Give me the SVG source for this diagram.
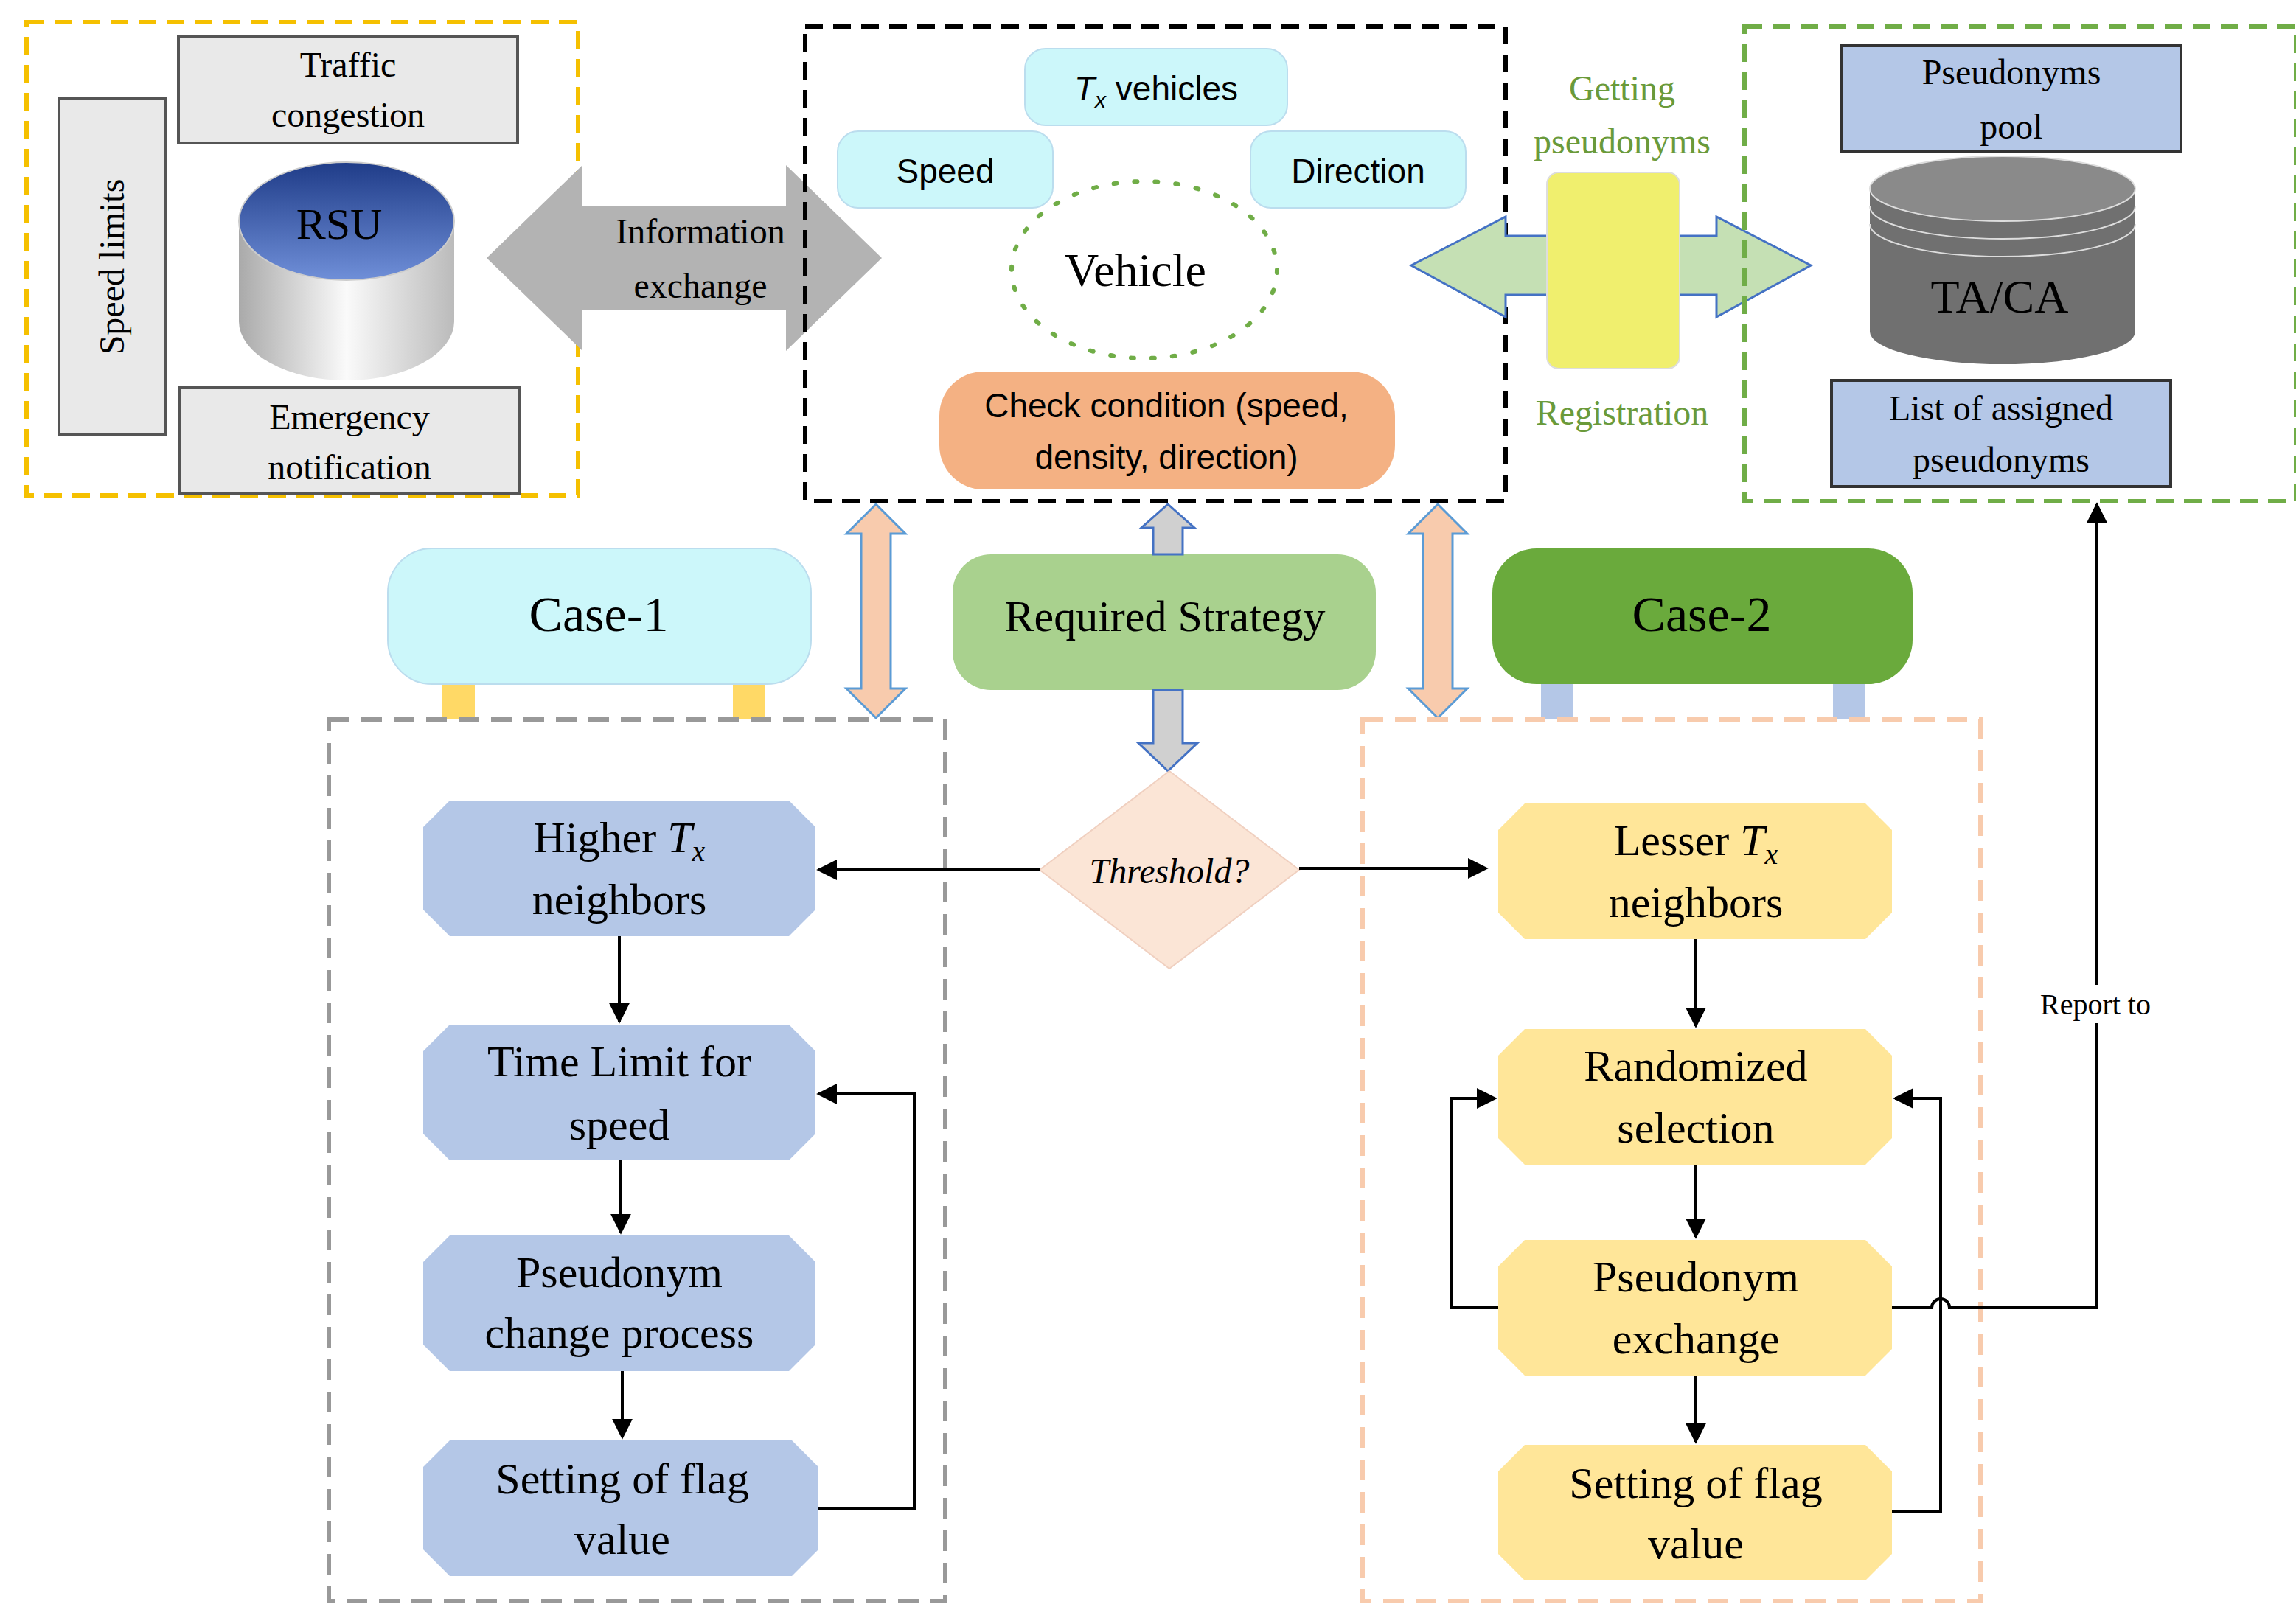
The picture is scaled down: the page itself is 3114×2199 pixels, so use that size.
<svg xmlns="http://www.w3.org/2000/svg" width="3114" height="2199" viewBox="0 0 3114 2199">
<defs>
<style>
.s{font-family:"Liberation Serif",serif;fill:#000;text-anchor:middle}
.a{font-family:"Liberation Sans",sans-serif;fill:#000;text-anchor:middle}
.box{fill:#e9e9e9;stroke:#555;stroke-width:2}
.ln{fill:none;stroke:#000;stroke-width:2}
.oct1{fill:#b4c7e7}
.oct2{fill:#ffe699}
</style>
<marker id="ah" viewBox="0 0 10 10" refX="9" refY="5" markerWidth="7" markerHeight="7" orient="auto"><path d="M0,0L10,5L0,10z" fill="#000"/></marker>
<linearGradient id="rsu" x1="0" y1="0" x2="0" y2="1"><stop offset="0" stop-color="#1f3c88"/><stop offset="1" stop-color="#6f8fd8"/></linearGradient>
<linearGradient id="cyl" x1="0" y1="0" x2="1" y2="0"><stop offset="0" stop-color="#aaa"/><stop offset="0.5" stop-color="#fafafa"/><stop offset="1" stop-color="#bbb"/></linearGradient>
</defs>
<rect width="3114" height="2199" fill="#fff"/>
<g transform="scale(2)">
<g id="rsu-area">
<rect x="18" y="15" width="374" height="321" fill="none" stroke="#f5c000" stroke-width="3" stroke-dasharray="12,7"/>
<rect class="box" x="40" y="67" width="72" height="228"/>
<text class="s" font-size="24" transform="translate(84,181) rotate(-90)">Speed limits</text>
<rect class="box" x="121" y="25" width="230" height="72"/>
<text class="s" font-size="24" x="236" y="52">Traffic</text><text class="s" font-size="24" x="236" y="86">congestion</text>
<path d="M162,150 L162,218 A73,40 0 0 0 308,218 L308,150 Z" fill="url(#cyl)"/>
<ellipse cx="235" cy="150" rx="73" ry="40" fill="url(#rsu)" stroke="#ccc"/>
<text class="s" font-size="30" x="230" y="162">RSU</text>
<rect class="box" x="122" y="263" width="230" height="72"/>
<text class="s" font-size="24" x="237" y="291">Emergency</text><text class="s" font-size="24" x="237" y="325">notification</text>
</g>
<g id="info-exchange">
<path d="M330,175 L395,112 L395,140 L533,140 L533,112 L598,175 L533,238 L533,210 L395,210 L395,238 Z" fill="#b3b3b3"/>
<text class="s" font-size="24" x="475" y="165">Information</text><text class="s" font-size="24" x="475" y="202">exchange</text>
</g>
<g id="vehicle-area">
<rect x="546" y="18" width="475" height="322" fill="none" stroke="#000" stroke-width="3" stroke-dasharray="12,7"/>
<rect x="695" y="33" width="178" height="52" rx="14" fill="#ccf7fa" stroke="#bde"/>
<text class="a" font-size="23" x="784" y="68"><tspan font-style="italic">T<tspan font-size="15" dy="5">x</tspan></tspan><tspan dy="-5"> vehicles</tspan></text>
<rect x="568" y="89" width="146" height="52" rx="14" fill="#ccf7fa" stroke="#bde"/>
<text class="a" font-size="23" x="641" y="124">Speed</text>
<rect x="848" y="89" width="146" height="52" rx="14" fill="#ccf7fa" stroke="#bde"/>
<text class="a" font-size="23" x="921" y="124">Direction</text>
<ellipse cx="776" cy="183" rx="90" ry="60" fill="none" stroke="#70ad47" stroke-width="3" stroke-dasharray="2,12" stroke-linecap="round"/>
<text class="s" font-size="32" x="770" y="194">Vehicle</text>
<rect x="637" y="252" width="309" height="80" rx="30" fill="#f4b183"/>
<text class="a" font-size="23" x="791" y="283">Check condition (speed,</text><text class="a" font-size="23" x="791" y="318">density, direction)</text>
</g>
<g id="registration">
<path d="M957,180 L1021,147 L1021,160 L1164,160 L1164,147 L1228,180 L1164,215 L1164,200 L1021,200 L1021,215 Z" fill="#c5e0b4" stroke="#4472c4" stroke-width="1.5"/>
<rect x="1049" y="117" width="90" height="133" rx="8" fill="#f0ef6e" stroke="#ddd"/>
<text class="s" font-size="24" x="1100" y="68" fill="#70ad47" style="fill:#6a9a3a">Getting</text>
<text class="s" font-size="24" x="1100" y="104" style="fill:#6a9a3a">pseudonyms</text>
<text class="s" font-size="24" x="1100" y="288" style="fill:#6a9a3a">Registration</text>
</g>
<g id="taca-area">
<rect x="1183" y="18" width="374" height="322" fill="none" stroke="#70ad47" stroke-width="3" stroke-dasharray="12,7"/>
<rect x="1249" y="31" width="230" height="72" fill="#b4c7e7" stroke="#333" stroke-width="2"/>
<text class="s" font-size="24" x="1364" y="57">Pseudonyms</text><text class="s" font-size="24" x="1364" y="94">pool</text>
<path d="M1268,128 L1268,225 A90,22 0 0 0 1448,225 L1448,128 Z" fill="#707070"/>
<ellipse cx="1358" cy="128" rx="90" ry="22" fill="#8a8a8a" stroke="#ddd"/>
<path d="M1268,140 A90,22 0 0 0 1448,140 M1268,152 A90,22 0 0 0 1448,152" fill="none" stroke="#ddd"/>
<text class="s" font-size="32" x="1356" y="212">TA/CA</text>
<rect x="1242" y="258" width="230" height="72" fill="#b4c7e7" stroke="#333" stroke-width="2"/>
<text class="s" font-size="24" x="1357" y="285">List of assigned</text><text class="s" font-size="24" x="1357" y="320">pseudonyms</text>
</g>
<g id="case1">
<rect x="300" y="460" width="22" height="28" fill="#ffd966"/><rect x="497" y="460" width="22" height="28" fill="#ffd966"/>
<rect x="263" y="372" width="287" height="92" rx="30" fill="#ccf7fa" stroke="#bde"/>
<text class="s" font-size="34" x="406" y="428">Case-1</text>
</g>
<g id="strategy">
<rect x="646" y="376" width="287" height="92" rx="26" fill="#a9d18e"/>
<text class="s" font-size="30" x="790" y="428">Required Strategy</text>
</g>
<g id="case2">
<rect x="1045" y="460" width="22" height="28" fill="#b4c7e7"/><rect x="1243" y="460" width="22" height="28" fill="#b4c7e7"/>
<rect x="1012" y="372" width="285" height="92" rx="30" fill="#6aaa3c"/>
<text class="s" font-size="34" x="1154" y="428">Case-2</text>
</g>
<g id="big-arrows">
<path d="M594,342 L614,362 L604,362 L604,467 L614,467 L594,487 L574,467 L584,467 L584,362 L574,362 Z" fill="#f8cbad" stroke="#5b9bd5" stroke-width="1.5"/>
<path d="M975,342 L995,362 L985,362 L985,467 L995,467 L975,487 L955,467 L965,467 L965,362 L955,362 Z" fill="#f8cbad" stroke="#5b9bd5" stroke-width="1.5"/>
<path d="M792,342 L810,358 L802,358 L802,376 L782,376 L782,358 L774,358 Z" fill="#d0d0d0" stroke="#4472c4" stroke-width="1.5"/>
<path d="M782,468 L802,468 L802,504 L812,504 L792,523 L772,504 L782,504 Z" fill="#d0d0d0" stroke="#4472c4" stroke-width="1.5"/>
</g>
<rect x="223" y="488" width="418" height="598" fill="none" stroke="#999" stroke-width="3" stroke-dasharray="14,8"/>
<rect x="924" y="488" width="419" height="598" fill="none" stroke="#f8cbad" stroke-width="3" stroke-dasharray="14,8"/>
<g id="threshold">
<path d="M793,523 L881,590 L793,657 L705,590 Z" fill="#fbe5d6" stroke="#f0d0c0"/>
<text class="s" font-size="24" font-style="italic" x="793" y="599">Threshold?</text>
</g>
<g id="higher"><path class="oct1" d="M305,543 L535,543 L553,561 L553,617 L535,635 L305,635 L287,617 L287,561 Z"/>
<text class="s" font-size="30" x="420" y="578">Higher <tspan font-style="italic">T<tspan font-size="20" dy="6">x</tspan></tspan></text><text class="s" font-size="30" x="420" y="620">neighbors</text></g>
<g id="timelimit"><path class="oct1" d="M305,695 L535,695 L553,713 L553,769 L535,787 L305,787 L287,769 L287,713 Z"/>
<text class="s" font-size="30" x="420" y="730">Time Limit for</text><text class="s" font-size="30" x="420" y="773">speed</text></g>
<g id="pchange"><path class="oct1" d="M305,838 L535,838 L553,856 L553,912 L535,930 L305,930 L287,912 L287,856 Z"/>
<text class="s" font-size="30" x="420" y="873">Pseudonym</text><text class="s" font-size="30" x="420" y="914">change process</text></g>
<g id="flag1"><path class="oct1" d="M305,977 L537,977 L555,995 L555,1051 L537,1069 L305,1069 L287,1051 L287,995 Z"/>
<text class="s" font-size="30" x="422" y="1013">Setting of flag</text><text class="s" font-size="30" x="422" y="1054">value</text></g>
<g id="lesser"><path class="oct2" d="M1034,545 L1265,545 L1283,563 L1283,619 L1265,637 L1034,637 L1016,619 L1016,563 Z"/>
<text class="s" font-size="30" x="1150" y="580">Lesser <tspan font-style="italic">T<tspan font-size="20" dy="6">x</tspan></tspan></text><text class="s" font-size="30" x="1150" y="622">neighbors</text></g>
<g id="random"><path class="oct2" d="M1034,698 L1265,698 L1283,716 L1283,772 L1265,790 L1034,790 L1016,772 L1016,716 Z"/>
<text class="s" font-size="30" x="1150" y="733">Randomized</text><text class="s" font-size="30" x="1150" y="775">selection</text></g>
<g id="pexchange"><path class="oct2" d="M1034,841 L1265,841 L1283,859 L1283,915 L1265,933 L1034,933 L1016,915 L1016,859 Z"/>
<text class="s" font-size="30" x="1150" y="876">Pseudonym</text><text class="s" font-size="30" x="1150" y="918">exchange</text></g>
<g id="flag2"><path class="oct2" d="M1034,980 L1265,980 L1283,998 L1283,1054 L1265,1072 L1034,1072 L1016,1054 L1016,998 Z"/>
<text class="s" font-size="30" x="1150" y="1016">Setting of flag</text><text class="s" font-size="30" x="1150" y="1057">value</text></g>
<g id="connectors">
<path class="ln" d="M705,590 L555,590" marker-end="url(#ah)"/>
<path class="ln" d="M881,589 L1008,589" marker-end="url(#ah)"/>
<path class="ln" d="M420,635 L420,693" marker-end="url(#ah)"/>
<path class="ln" d="M421,787 L421,836" marker-end="url(#ah)"/>
<path class="ln" d="M422,930 L422,975" marker-end="url(#ah)"/>
<path class="ln" d="M555,1023 L620,1023 L620,742 L555,742" marker-end="url(#ah)"/>
<path class="ln" d="M1150,637 L1150,696" marker-end="url(#ah)"/>
<path class="ln" d="M1150,790 L1150,839" marker-end="url(#ah)"/>
<path class="ln" d="M1150,933 L1150,978" marker-end="url(#ah)"/>
<path class="ln" d="M1016,887 L984,887 L984,745 L1014,745" marker-end="url(#ah)"/>
<path class="ln" d="M1283,1025 L1316,1025 L1316,745 L1285,745" marker-end="url(#ah)"/>
<path class="ln" d="M1283,887 L1310,887 A6,6 0 0 1 1322,887 L1422,887 L1422,342" marker-end="url(#ah)"/>
<rect x="1372" y="668" width="100" height="26" fill="#fff"/>
<text class="s" font-size="20" x="1421" y="688">Report to</text>
</g>
</g>
</svg>
